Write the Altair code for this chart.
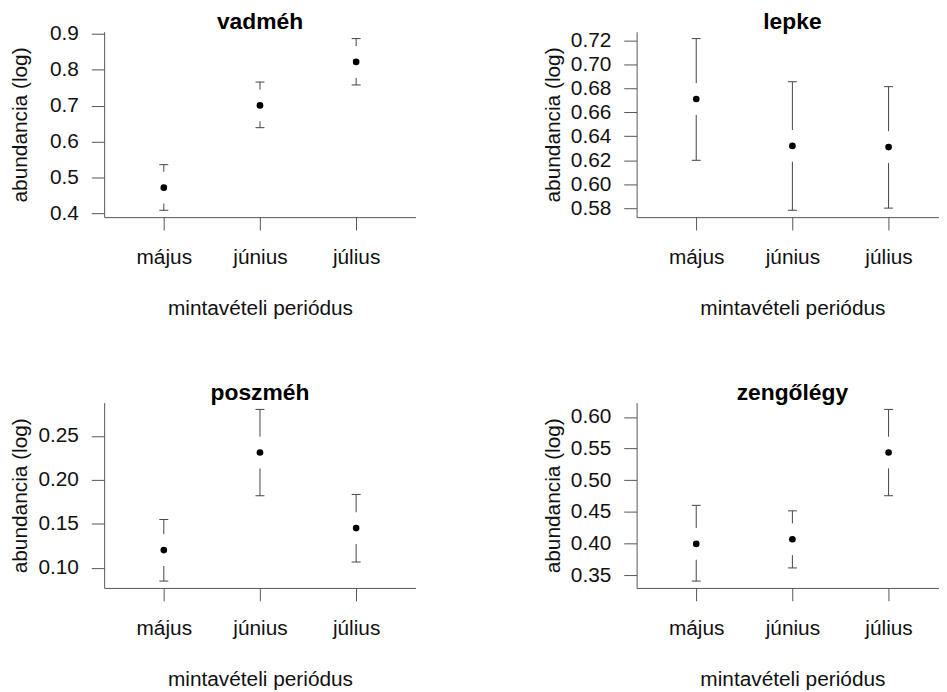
import json
import altair as alt
import pandas as pd

months = ["május", "június", "július"]

titles = ["vadméh", "lepke", "poszméh", "zengőlégy"]

vadmeh_mean = [0.472, 0.701, 0.822]
vadmeh_lo = [0.409, 0.639, 0.758]
vadmeh_hi = [0.536, 0.766, 0.887]

lepke_mean = [0.671, 0.632, 0.631]
lepke_lo = [0.620, 0.5784, 0.5802]
lepke_hi = [0.7213, 0.6854, 0.6813]

poszmeh_mean = [0.120, 0.231, 0.145]
poszmeh_lo = [0.0847, 0.1818, 0.1064]
poszmeh_hi = [0.1548, 0.280, 0.1833]

zengo_mean = [0.3994, 0.4067, 0.5438]
zengo_lo = [0.3406, 0.3614, 0.4755]
zengo_hi = [0.4603, 0.4516, 0.6119]

vadmeh_ticks = [0.4, 0.5, 0.6, 0.7, 0.8, 0.9]
lepke_ticks = [0.58, 0.60, 0.62, 0.64, 0.66, 0.68, 0.70, 0.72]
poszmeh_ticks = [0.10, 0.15, 0.20, 0.25]
zengo_ticks = [0.35, 0.40, 0.45, 0.50, 0.55, 0.60]

FONT = "Liberation Sans"
AXIS_COLOR = "#555555"
BAR_COLOR = "#444444"
PX_PER_UNIT = 97.0
PLOT_H = 187


def pad_domain(lo, hi):
    r = max(hi) - min(lo)
    return [min(lo) - 0.04 * r, max(hi) + 0.04 * r]


def panel(title, mean, lo, hi, ticks, fmt, width):
    df = pd.DataFrame({
        "x": [i + 1 for i in range(len(months))],
        "m": mean,
        "lo": lo,
        "hi": hi,
    })
    xdom = [0.38, 0.38 + width / PX_PER_UNIT]
    ydom = pad_domain(lo, hi)
    xaxis = alt.Axis(
        values=[1, 2, 3],
        labelExpr=f"{json.dumps(months)}[datum.value - 1]",
        title="mintavételi periódus",
        grid=False,
        domainColor=AXIS_COLOR,
        tickColor=AXIS_COLOR,
        tickSize=13,
        labelFont=FONT,
        labelFontSize=21,
        labelColor="#111111",
        labelPadding=17,
        labelBaseline="top",
        titleFont=FONT,
        titleFontSize=21,
        titleFontWeight="normal",
        titleColor="#111111",
        titleBaseline="alphabetic",
        titleY=98,
        titleX=(2 - xdom[0]) * PX_PER_UNIT,
        titleAlign="center",
    )
    yaxis = alt.Axis(
        values=ticks,
        format=fmt,
        title="abundancia (log)",
        grid=False,
        domainColor=AXIS_COLOR,
        tickColor=AXIS_COLOR,
        tickSize=13,
        labelFont=FONT,
        labelFontSize=21,
        labelColor="#111111",
        labelPadding=13,
        labelFlush=False,
        labelOverlap=False,
        titleFont=FONT,
        titleFontSize=21,
        titleFontWeight="normal",
        titleColor="#111111",
        titleAngle=270,
        titleBaseline="alphabetic",
        titleAlign="center",
        titleX=-78,
        titleY=PLOT_H / 2,
    )
    xs = alt.Scale(domain=xdom, nice=False, zero=False)
    ys = alt.Scale(domain=ydom, nice=False, zero=False)
    X = alt.X("x:Q", scale=xs, axis=xaxis)
    base = alt.Chart(df)
    upper = base.mark_rule(color=BAR_COLOR, strokeWidth=1, y2Offset=-16).encode(
        x=X, y=alt.Y("hi:Q", scale=ys, axis=yaxis), y2="m:Q")
    lower = base.mark_rule(color=BAR_COLOR, strokeWidth=1, yOffset=16).encode(
        x=X, y=alt.Y("m:Q", scale=ys, axis=yaxis), y2="lo:Q")
    cap_hi = base.mark_rule(color=BAR_COLOR, strokeWidth=1, xOffset=-4.5, x2Offset=4.5).encode(
        x=X, x2="x:Q", y=alt.Y("hi:Q", scale=ys, axis=yaxis))
    cap_lo = base.mark_rule(color=BAR_COLOR, strokeWidth=1, xOffset=-4.5, x2Offset=4.5).encode(
        x=X, x2="x:Q", y=alt.Y("lo:Q", scale=ys, axis=yaxis))
    pts = base.mark_circle(color="black", opacity=1, size=45).encode(
        x=X, y=alt.Y("m:Q", scale=ys, axis=yaxis))
    ttl = alt.Chart(pd.DataFrame({"t": [title]})).mark_text(
        font=FONT, fontSize=23, fontWeight="bold", color="#000000",
        align="center", baseline="alphabetic",
    ).encode(text="t:N", x=alt.value((2 - xdom[0]) * PX_PER_UNIT), y=alt.value(-3))
    return alt.layer(upper, lower, cap_hi, cap_lo, pts, ttl).properties(
        width=width,
        height=PLOT_H,
    )


p1 = panel(titles[0], vadmeh_mean, vadmeh_lo, vadmeh_hi, vadmeh_ticks, ".1f", 314)
p2 = panel(titles[1], lepke_mean, lepke_lo, lepke_hi, lepke_ticks, ".2f", 305)
p3 = panel(titles[2], poszmeh_mean, poszmeh_lo, poszmeh_hi, poszmeh_ticks, ".2f", 314)
p4 = panel(titles[3], zengo_mean, zengo_lo, zengo_hi, zengo_ticks, ".2f", 305)

chart = alt.concat(
    p1, p2, p3, p4, columns=2, spacing={"row": 187, "column": 223}, bounds="flush"
).properties(
    padding={"left": 2, "top": 0, "right": 0, "bottom": 0},
    background="white",
).configure_view(stroke=None)

chart.save("out.html", embed_options={"renderer": "svg", "actions": False})
